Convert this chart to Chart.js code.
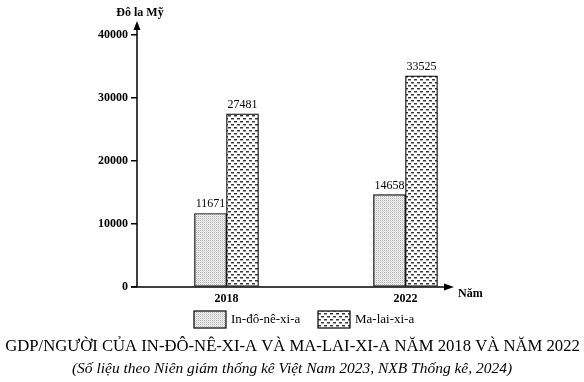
<!DOCTYPE html>
<html><head><meta charset="utf-8">
<script src="https://cdn.jsdelivr.net/npm/chart.js@4"></script>
<style>html,body{margin:0;padding:0;background:#fff}#wrap{width:584px;height:382px}</style>
</head><body><div id="wrap"><canvas id="c" width="584" height="382"></canvas></div>
<script>
const categories = ['2018', '2022'];
const indonesia = [11671, 14658];
const malaysia = [27481, 33525];
const seriesNames = ['In-đô-nê-xi-a', 'Ma-lai-xi-a'];
const yTicks = [0, 10000, 20000, 30000, 40000];
const yUnit = 'Đô la Mỹ';
const xUnit = 'Năm';
const titleText = 'GDP/NGƯỜI CỦA IN-ĐÔ-NÊ-XI-A VÀ MA-LAI-XI-A NĂM 2018 VÀ NĂM 2022';
const subtitleText = '(Số liệu theo Niên giám thống kê Việt Nam 2023, NXB Thống kê, 2024)';

function makePattern(kind){
  const p = document.createElement('canvas');
  const ctx = p.getContext('2d');
  if(kind === 'dots'){
    p.width = 2; p.height = 2;
    ctx.fillStyle = '#f4f4f4'; ctx.fillRect(0,0,2,2);
    ctx.fillStyle = '#b0b0b0'; ctx.fillRect(0,0,1,1);
    ctx.fillStyle = '#d8d8d8'; ctx.fillRect(1,1,1,1);
  } else {
    p.width = 6; p.height = 6;
    ctx.fillStyle = '#ffffff'; ctx.fillRect(0,0,6,6);
    ctx.fillStyle = '#383838';
    ctx.fillRect(0,1,3,1);
    ctx.fillRect(3,4,3,1);
    ctx.fillStyle = '#a0a0a0';
    ctx.fillRect(0,2,3,1);
    ctx.fillRect(3,5,3,1);
  }
  return document.getElementById('c').getContext('2d').createPattern(p,'repeat');
}
const patIndo = makePattern('dots');
const patMal = makePattern('dashes');

const serif = '"Liberation Serif", "DejaVu Serif", serif';

const decor = {
  id: 'decor',
  afterDraw(chart){
    const ctx = chart.ctx;
    const a = chart.chartArea;
    const y0 = chart.scales.y.getPixelForValue(0);
    ctx.save();
    ctx.strokeStyle = '#000'; ctx.fillStyle = '#000'; ctx.lineWidth = 1.5;
    ctx.beginPath(); ctx.moveTo(a.left, y0); ctx.lineTo(a.left, 27); ctx.stroke();
    ctx.beginPath(); ctx.moveTo(a.left, 21); ctx.lineTo(a.left-3.5, 30); ctx.lineTo(a.left+3.5, 30); ctx.closePath(); ctx.fill();
    ctx.beginPath(); ctx.moveTo(a.left-6, y0); ctx.lineTo(447, y0); ctx.stroke();
    ctx.beginPath(); ctx.moveTo(454, y0); ctx.lineTo(444, y0-3.5); ctx.lineTo(444, y0+3.5); ctx.closePath(); ctx.fill();
    ctx.font = 'bold 12px ' + serif;
    ctx.textAlign = 'center'; ctx.textBaseline = 'middle';
    ctx.fillText(yUnit, 140, 13);
    ctx.textAlign = 'left';
    ctx.fillText(xUnit, 458, 294);
    ctx.font = '12px ' + serif;
    ctx.textAlign = 'center'; ctx.textBaseline = 'alphabetic';
    chart.data.datasets.forEach((ds, di) => {
      chart.getDatasetMeta(di).data.forEach((el, i) => {
        ctx.fillText(String(ds.data[i]), el.x, el.y - 6);
      });
    });
    const items = [{x:194, tx:231}, {x:318, tx:355}];
    ctx.font = '13px ' + serif; ctx.textBaseline = 'middle'; ctx.textAlign = 'left';
    chart.data.datasets.forEach((ds, di) => {
      const it = items[di];
      ctx.fillStyle = ds.backgroundColor;
      ctx.fillRect(it.x, 311, 32, 17);
      ctx.lineWidth = 1.2; ctx.strokeStyle = '#000';
      ctx.strokeRect(it.x, 311, 32, 17);
      ctx.fillStyle = '#000';
      ctx.fillText(ds.label, it.tx, 320);
    });
    ctx.textAlign = 'center';
    let fs = 17;
    ctx.font = fs + 'px ' + serif;
    const w = ctx.measureText(titleText).width;
    fs = fs * 575 / w;
    ctx.font = fs.toFixed(2) + 'px ' + serif;
    ctx.fillText(titleText, 292.5, 347);
    ctx.font = 'italic 13px ' + serif;
    const w2 = ctx.measureText(subtitleText).width;
    const fs2 = 13 * 440 / w2;
    ctx.font = 'italic ' + fs2.toFixed(2) + 'px ' + serif;
    ctx.fillText(subtitleText, 292, 369);
    ctx.restore();
  }
};

new Chart(document.getElementById('c'), {
  type: 'bar',
  data: {
    labels: categories,
    datasets: [
      { label: seriesNames[0], data: indonesia, backgroundColor: patIndo, borderColor: '#000', borderWidth: 1.2, borderSkipped: false },
      { label: seriesNames[1], data: malaysia, backgroundColor: patMal, borderColor: '#000', borderWidth: 1.2, borderSkipped: false }
    ]
  },
  options: {
    responsive: false,
    animation: false,
    devicePixelRatio: 1,
    layout: { padding: { left: 0, right: 89, top: 35, bottom: 0 } },
    plugins: { legend: { display: false }, title: { display: false }, tooltip: { enabled: false } },
    datasets: { bar: { barThickness: 32, categoryPercentage: 1, barPercentage: 1 } },
    scales: {
      x: {
        grid: { display: false, drawTicks: false },
        border: { display: false },
        ticks: { color: '#000', font: { family: serif, size: 12, weight: 'bold' }, padding: 5 },
        afterFit(s){ s.height = 95; }
      },
      y: {
        min: 0, max: 40000,
        afterBuildTicks(s){ s.ticks = yTicks.map(v => ({ value: v })); },
        grid: { drawOnChartArea: false, drawTicks: true, tickLength: 6, color: '#000', lineWidth: 1.5 },
        border: { display: false },
        ticks: { color: '#000', font: { family: serif, size: 12, weight: 'bold' }, padding: 3, callback: v => String(v) },
        afterFit(s){ s.width = 137; }
      }
    }
  },
  plugins: [decor]
});
</script></body></html>
